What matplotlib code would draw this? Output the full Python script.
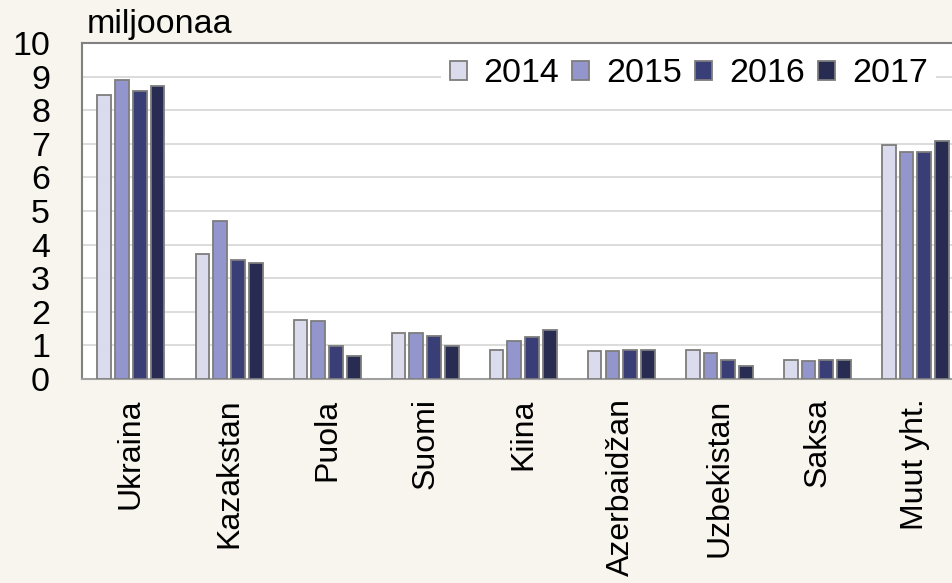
import numpy as np
import matplotlib
matplotlib.use("Agg")
import matplotlib.pyplot as plt

plt.rcParams['font.family'] = ['Liberation Sans', 'DejaVu Sans']

# Data: million tonnes per country and year
countries = ["Ukraina", "Kazakstan", "Puola", "Suomi", "Kiina",
             "Azerbaidžan", "Uzbekistan", "Saksa", "Muut yht."]
years = ["2014", "2015", "2016", "2017"]
v2014 = [8.45, 3.72, 1.77, 1.37, 0.86, 0.82, 0.86, 0.56, 6.97]
v2015 = [8.90, 4.71, 1.72, 1.37, 1.12, 0.82, 0.78, 0.52, 6.75]
v2016 = [8.57, 3.54, 0.99, 1.29, 1.26, 0.86, 0.56, 0.56, 6.75]
v2017 = [8.73, 3.46, 0.68, 0.99, 1.46, 0.86, 0.39, 0.56, 7.10]
colors = ["#dadcee", "#9296cc", "#3a3e76", "#282b52"]

fig = plt.figure(figsize=(9.53, 5.83), dpi=100, facecolor="#f8f4ee")
ax = fig.add_axes([0.086, 0.35, 0.926, 0.576])
ax.set_facecolor("white")

x = np.arange(len(countries))
pitch = 0.181
width = 0.14
series = [v2014, v2015, v2016, v2017]
for i, vals in enumerate(series):
    ax.bar(x + (i - 1.5) * pitch, vals, width, color=colors[i],
           edgecolor="#7d7d7d", linewidth=1.3, label=years[i], zorder=3)

ax.set_xlim(-0.5, 8.5)
ax.set_ylim(0, 10)
ax.set_yticks(range(0, 11))
ax.yaxis.grid(True, color="#d9d9d9", linewidth=1.3, zorder=0)
ax.set_axisbelow(True)
ax.tick_params(axis="y", length=0, pad=23, labelsize=24.5)
ax.set_xticks(x)
ax.set_xticklabels(countries, rotation=90, fontsize=23)
ax.tick_params(axis="x", length=0, pad=14)

for side in ["left", "top", "bottom"]:
    ax.spines[side].set_color("#808080")
    ax.spines[side].set_linewidth(1.5)
ax.spines["bottom"].set_color("#a0a0a0")
ax.spines["right"].set_visible(False)

leg = ax.legend(ncol=4, loc="center left",
                bbox_to_anchor=(441 / 953, 1 - 74 / 583),
                bbox_transform=fig.transFigure, frameon=True,
                fontsize=24.5, handlelength=0.5, handleheight=0.5,
                handletextpad=0.5, columnspacing=0.38, borderpad=0.25,
                borderaxespad=0)
leg.get_frame().set_facecolor("white")
leg.get_frame().set_edgecolor("none")
leg.get_frame().set_alpha(1)
leg.get_frame().set_boxstyle("square", pad=0)

fig.text(87 / 953, 1 - 33 / 583, "miljoonaa", fontsize=24.5,
         ha="left", va="baseline")

fig.savefig("out.png", dpi=100, facecolor=fig.get_facecolor())
